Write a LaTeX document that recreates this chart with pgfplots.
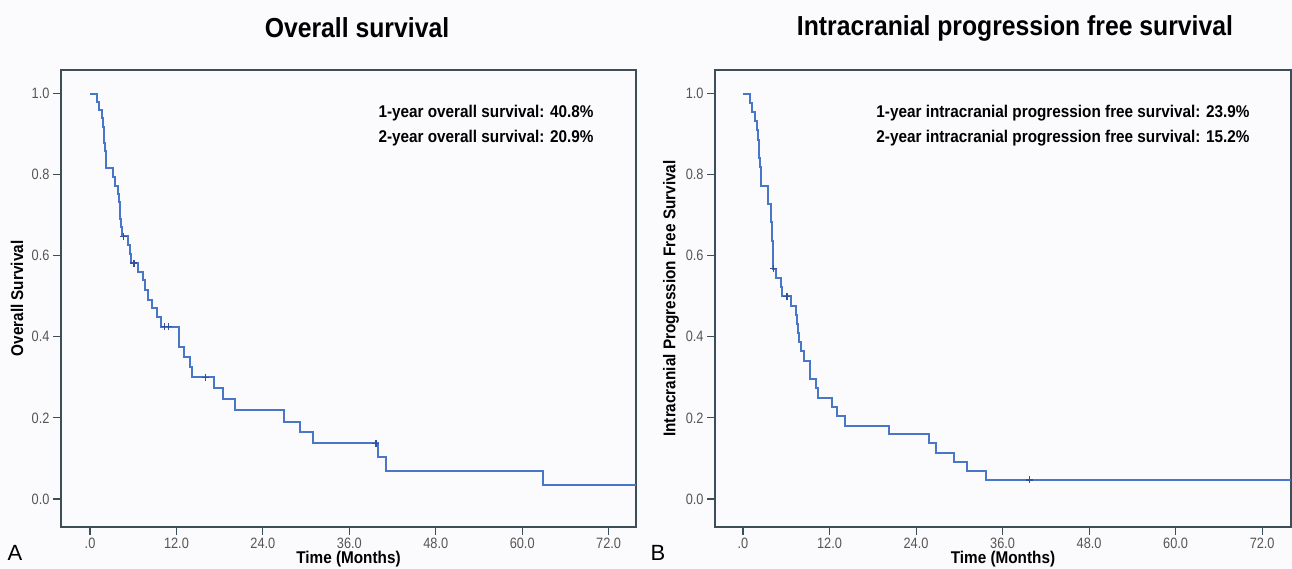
\documentclass[border=0pt]{standalone}
\usepackage{pgfplots}
\usepackage{pgfplotstable}
\pgfplotsset{compat=1.18}
\usepackage{fontspec}
\setmainfont{Liberation Sans}[FakeStretch=0.9]
\newfontfamily\plainfont{Liberation Sans}
\newfontfamily\tickfont{Liberation Sans}[FakeStretch=0.85]
\definecolor{framec}{RGB}{62,78,88}
\definecolor{curvec}{RGB}{72,118,200}
\definecolor{censc}{RGB}{50,80,160}
\definecolor{tickc}{RGB}{85,85,85}
\definecolor{bgc}{RGB}{251,251,253}

\pgfplotstableread{
t s
0 1.0
1.0 0.98
1.3 0.96
1.6 0.94
1.85 0.918
1.95 0.898
2.0 0.878
2.1 0.858
2.2 0.837
2.25 0.816
3.2 0.794
3.5 0.773
3.9 0.753
4.0 0.732
4.1 0.712
4.2 0.691
4.3 0.670
4.4 0.648
5.3 0.626
5.5 0.604
5.7 0.582
6.6 0.561
7.3 0.541
7.6 0.516
8.1 0.491
8.6 0.471
9.3 0.450
9.9 0.425
12.3 0.376
13.1 0.350
13.9 0.325
14.1 0.300
17.2 0.273
18.4 0.246
20.1 0.220
26.9 0.191
29.1 0.165
31.0 0.137
40.0 0.103
41.1 0.069
62.9 0.0346
76.0 0.0346
}\osdata

\pgfplotstableread{
t s
4.6 0.648
6.1 0.582
10.3 0.425
10.9 0.425
16.0 0.300
39.7 0.137
}\oscens

\pgfplotstableread{
t s
0 1.0
1.0 0.977
1.3 0.955
1.6 0.932
2.0 0.909
2.1 0.886
2.2 0.864
2.27 0.841
2.4 0.818
2.45 0.795
2.5 0.773
3.4 0.750
3.45 0.727
3.9 0.705
3.95 0.682
4.0 0.659
4.05 0.636
4.1 0.614
4.15 0.591
4.2 0.568
4.6 0.545
5.3 0.522
5.35 0.500
6.7 0.477
7.3 0.455
7.45 0.432
7.6 0.409
7.8 0.386
8.1 0.364
8.4 0.341
9.3 0.318
9.35 0.296
10.1 0.273
10.4 0.250
12.3 0.228
13.1 0.205
14.1 0.181
20.3 0.160
25.8 0.137
26.8 0.114
29.2 0.092
31.1 0.069
33.7 0.047
76.0 0.047
}\pfsdata

\pgfplotstableread{
t s
4.25 0.568
6.1 0.500
39.7 0.047
}\pfscens

\pgfplotsset{
  kmaxis/.style={
    scale only axis, anchor=south west,
    height=457pt,
    ymin=-0.069, ymax=1.058,
    axis line style={draw=framec, line width=1.3pt},
    every tick/.style={draw=framec, line width=1.1pt},
    tick align=outside, major tick length=8pt,
    tick pos=left,
    xtick={0,12,24,36,48,60,72},
    xticklabels={.0,12.0,24.0,36.0,48.0,60.0,72.0},
    ytick={0,0.2,0.4,0.6,0.8,1.0},
    yticklabels={0.0,0.2,0.4,0.6,0.8,1.0},
    tick label style={font=\tickfont\fontsize{15}{17}\selectfont, text=tickc},
    xticklabel style={yshift=1pt},
    /pgf/number format/assume math mode=true,
    label style={font=\bfseries\fontsize{17}{20}\selectfont},
    xlabel style={at={([yshift=-32pt]axis description cs:0.5,0)}, anchor=center},
    ylabel style={at={([xshift=-44pt]axis description cs:0,0.5)}, anchor=center},
  },
  kmline/.style={const plot, no marks, color=curvec, line width=2pt, line join=miter},
  kmcens/.style={only marks, mark=+, mark size=3.5pt, color=censc, mark options={line width=1.1pt}},
}

\begin{document}
\begin{tikzpicture}
\useasboundingbox (0,0) rectangle (1292pt,569pt);
\fill[bgc] (0,0) rectangle (1292pt,569pt);

\begin{axis}[kmaxis, at={(61pt,42pt)}, width=575pt,
  xmin=-4.03, xmax=75.8,
  xlabel={Time (Months)}, ylabel={Overall Survival}]
  \addplot[kmline] table[x=t,y=s] {\osdata};
  \addplot[kmcens] table[x=t,y=s] {\oscens};
\end{axis}

\begin{axis}[kmaxis, at={(715pt,42pt)}, width=576pt,
  xmin=-3.88, xmax=76.0,
  xlabel={Time (Months)}, ylabel={Intracranial Progression Free Survival}]
  \addplot[kmline] table[x=t,y=s] {\pfsdata};
  \addplot[kmcens] table[x=t,y=s] {\pfscens};
\end{axis}

\node[font=\bfseries\fontsize{27.5}{30}\selectfont] at (357pt,541pt) {Overall survival};
\node[font=\bfseries\fontsize{27.5}{30}\selectfont] at (1015pt,541pt) {Intracranial progression free survival};

\node[anchor=east, font=\bfseries\fontsize{17}{20}\selectfont] at (597pt,456pt) {1-year overall survival: 40.8\%};
\node[anchor=east, font=\bfseries\fontsize{17}{20}\selectfont] at (597pt,431pt) {2-year overall survival: 20.9\%};
\node[anchor=east, font=\bfseries\fontsize{17}{20}\selectfont] at (1253pt,456pt) {1-year intracranial progression free survival: 23.9\%};
\node[anchor=east, font=\bfseries\fontsize{17}{20}\selectfont] at (1253pt,431pt) {2-year intracranial progression free survival: 15.2\%};

\node[font=\plainfont\fontsize{22}{24}\selectfont] at (15pt,16pt) {A};
\node[font=\plainfont\fontsize{22}{24}\selectfont] at (658pt,16pt) {B};
\end{tikzpicture}
\end{document}
